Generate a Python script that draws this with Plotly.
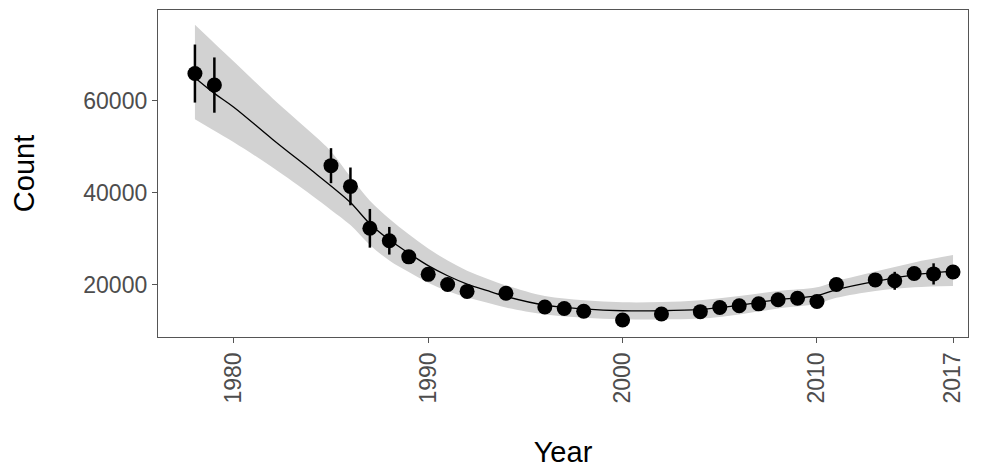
import plotly.graph_objects as go

# Observed counts with error bars
years = [1978, 1979, 1985, 1986, 1987, 1988, 1989, 1990, 1991, 1992, 1994, 1996, 1997, 1998,
         2000, 2002, 2004, 2005, 2006, 2007, 2008, 2009, 2010, 2011, 2013, 2014, 2015, 2016, 2017]
counts = [65900, 63400, 45900, 41400, 32300, 29600, 26100, 22300, 20100, 18600, 18200, 15200, 14900, 14300,
          12400, 13700, 14200, 15100, 15500, 15900, 16800, 17100, 16400, 20100, 21100, 20900, 22500, 22400, 22800]
errors = [6300, 6000, 3800, 4100, 4200, 3000, 900, 800, 700, 700, 600, 500, 500, 500,
          400, 500, 500, 500, 500, 500, 500, 600, 600, 700, 1000, 1950, 1400, 2300, 1000]

# Smoothed fit and confidence band
fit_years = [1978, 1979, 1980, 1982, 1984, 1985, 1986, 1987, 1988, 1989, 1990, 1991, 1992, 1993,
             1994, 1996, 1998, 2000, 2002, 2004, 2006, 2008, 2010, 2011, 2013, 2015, 2017]
fit = [65000, 61600, 58600, 51600, 44900, 41500, 37900, 33300, 29800, 26900, 24200, 22000, 20200, 18800,
       17500, 15600, 14800, 14400, 14400, 14700, 15600, 16800, 17700, 19000, 20800, 22200, 23000]
upper = [76500, 72500, 68500, 60500, 53000, 49000, 43500, 38300, 34400, 31000, 27900, 25300, 23100, 21400,
         19900, 17600, 16700, 16250, 16300, 16700, 17600, 18700, 19500, 20800, 22900, 24900, 26500]
lower = [56000, 53500, 51000, 45500, 39500, 36300, 33000, 28700, 25300, 22800, 20500, 18700, 17300, 16200,
         15100, 13600, 12900, 12550, 12500, 12700, 13600, 14900, 15900, 17200, 18700, 19500, 19800]

x_ticks = [1980, 1990, 2000, 2010, 2017]
y_ticks = [20000, 40000, 60000]

fig = go.Figure()
fig.add_trace(go.Scatter(x=fit_years, y=lower, mode="lines", line=dict(width=0, shape="spline"),
                         hoverinfo="skip", showlegend=False))
fig.add_trace(go.Scatter(x=fit_years, y=upper, mode="lines", line=dict(width=0, shape="spline"),
                         fill="tonexty", fillcolor="#d2d2d2", hoverinfo="skip", showlegend=False))
fig.add_trace(go.Scatter(x=fit_years, y=fit, mode="lines", line=dict(color="black", width=1.3, shape="spline"),
                         showlegend=False))
fig.add_trace(go.Scatter(x=years, y=counts, mode="markers",
                         marker=dict(color="black", size=15),
                         error_y=dict(type="data", array=errors, visible=True, color="black",
                                      thickness=2.5, width=0),
                         showlegend=False))

font_family = "Liberation Sans, Arial, sans-serif"
fig.update_layout(
    width=968, height=460,
    margin=dict(l=150, r=8, t=1, b=128),
    paper_bgcolor="white", plot_bgcolor="white",
    font=dict(family=font_family),
    xaxis=dict(range=[1976.1, 2017.77], tickvals=x_ticks, ticktext=[str(v) for v in x_ticks],
               tickangle=-90, tickfont=dict(size=23, color="#4d4d4d"),
               showgrid=False, zeroline=False, showline=True, mirror=True,
               linecolor="#555555", linewidth=1.3, ticks="outside", ticklen=5, tickcolor="#555555",
               title=dict(text="Year", font=dict(size=29, color="black"), standoff=43)),
    yaxis=dict(range=[8700, 79700], tickvals=y_ticks, ticktext=[str(v) for v in y_ticks],
               tickfont=dict(size=23, color="#4d4d4d"),
               showgrid=False, zeroline=False, showline=True, mirror=True,
               linecolor="#555555", linewidth=1.3, ticks="outside", ticklen=5, tickcolor="#555555",
               title=dict(text="Count", font=dict(size=29, color="black"), standoff=42)),
)

fig.write_html("out.html")
